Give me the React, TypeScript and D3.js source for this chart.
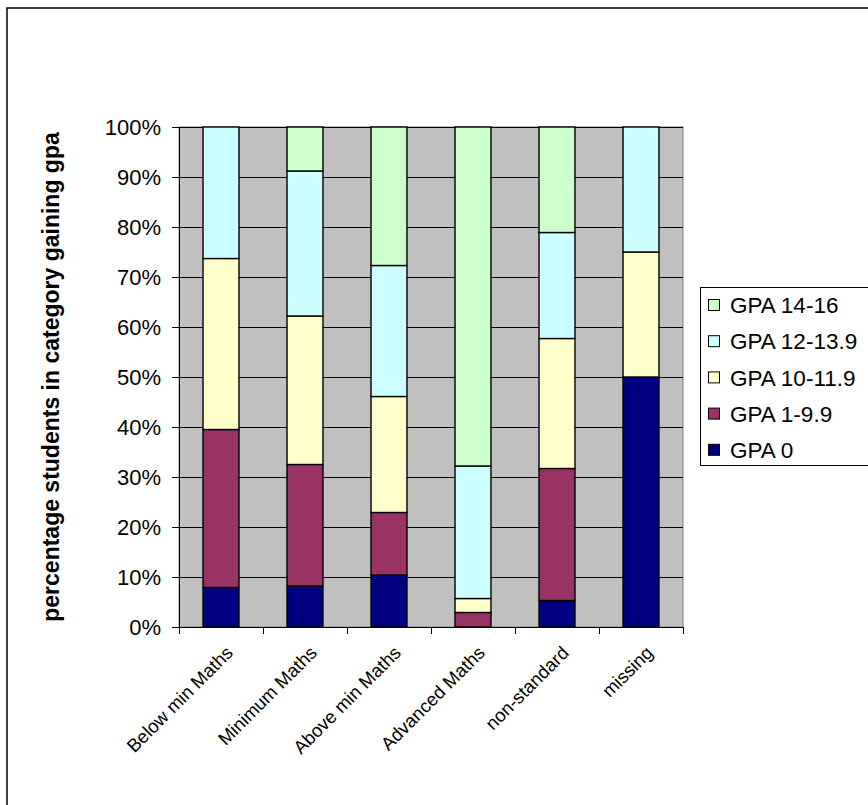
import React from "react";
import * as d3 from "d3";

const categories = [
  "Below min Maths",
  "Minimum Maths",
  "Above min Maths",
  "Advanced Maths",
  "non-standard",
  "missing",
];

// Series in stacking order (bottom to top), values are percentages
const seriesNames = ["GPA 0", "GPA 1-9.9", "GPA 10-11.9", "GPA 12-13.9", "GPA 14-16"];
const gpa0 = [7.9, 8.2, 10.4, 0, 5.3, 50];
const gpa1to9 = [31.6, 24.3, 12.5, 2.9, 26.4, 0];
const gpa10to11 = [34.2, 29.7, 23.2, 2.8, 26.0, 25];
const gpa12to13 = [26.3, 29.0, 26.2, 26.5, 21.2, 25];
const gpa14to16 = [0, 8.8, 27.7, 67.8, 21.1, 0];
const seriesColors = ["#000080", "#993366", "#FFFFCC", "#CCFFFF", "#CCFFCC"];

const yTicks = [0, 10, 20, 30, 40, 50, 60, 70, 80, 90, 100];
const yTitle = "percentage students in category gaining gpa";

const FONT = "Arial, 'Liberation Sans', Helvetica, sans-serif";

export default function App() {
  const W = 868;
  const H = 805;
  const plot = { left: 179, right: 683, top: 127, bottom: 627 };

  const x = d3
    .scaleBand<string>()
    .domain(categories)
    .range([plot.left, plot.right])
    .paddingInner(0.572)
    .paddingOuter(0.286);
  const band = d3.scaleBand<string>().domain(categories).range([plot.left, plot.right]);
  const y = d3.scaleLinear().domain([0, 100]).range([plot.bottom, plot.top]);

  const allSeries = [gpa0, gpa1to9, gpa10to11, gpa12to13, gpa14to16];
  const rows = categories.map((c, i) => {
    const r: Record<string, any> = { cat: c };
    seriesNames.forEach((s, k) => (r[s] = allSeries[k][i]));
    return r;
  });
  const stacked = d3.stack<any>().keys(seriesNames)(rows);

  const bw = x.bandwidth();
  const boundaries = [plot.left, ...categories.map((c) => (band(c) as number) + band.bandwidth())];

  const legendRows = seriesNames.map((s, i) => ({ name: s, color: seriesColors[i] })).reverse();

  return (
    <svg
      width={W}
      height={H}
      style={{ position: "absolute", left: 0, top: 0, background: "#fff" }}
      fontFamily={FONT}
    >
      {/* chart frame */}
      <rect x={7} y={8} width={900} height={900} fill="#fff" stroke="#000" strokeWidth={1.5} />

      {/* plot background */}
      <rect
        x={plot.left}
        y={plot.top}
        width={plot.right - plot.left}
        height={plot.bottom - plot.top}
        fill="#C0C0C0"
        stroke="#808080"
        strokeWidth={1}
      />

      {/* gridlines */}
      {yTicks.map((t) => (
        <line
          key={"g" + t}
          x1={plot.left}
          x2={plot.right}
          y1={Math.round(y(t)) + 0.5}
          y2={Math.round(y(t)) + 0.5}
          stroke="#000"
          strokeWidth={1}
        />
      ))}

      {/* bars */}
      {stacked.map((layer, k) =>
        layer.map((d, i) => {
          const h = y(d[0]) - y(d[1]);
          if (h <= 0) return null;
          return (
            <rect
              key={layer.key + i}
              x={x(categories[i])}
              y={y(d[1])}
              width={bw}
              height={h}
              fill={seriesColors[k]}
              stroke="#000"
              strokeWidth={1.4}
            />
          );
        })
      )}

      {/* y axis */}
      <line x1={plot.left + 0.5} x2={plot.left + 0.5} y1={plot.top} y2={plot.bottom} stroke="#000" />
      {yTicks.map((t) => (
        <g key={"yt" + t}>
          <line
            x1={plot.left - 7}
            x2={plot.left}
            y1={Math.round(y(t)) + 0.5}
            y2={Math.round(y(t)) + 0.5}
            stroke="#000"
          />
          <text x={161} y={y(t)} dy="0.35em" textAnchor="end" fontSize={22} fill="#000">
            {t}%
          </text>
        </g>
      ))}

      {/* x axis */}
      <line x1={plot.left} x2={plot.right} y1={plot.bottom + 0.5} y2={plot.bottom + 0.5} stroke="#000" />
      {boundaries.map((bx, i) => (
        <line
          key={"xt" + i}
          x1={Math.round(bx) + 0.5}
          x2={Math.round(bx) + 0.5}
          y1={plot.bottom}
          y2={plot.bottom + 7}
          stroke="#000"
        />
      ))}
      {categories.map((c) => {
        const cx = (band(c) as number) + band.bandwidth() / 2;
        return (
          <text
            key={"xl" + c}
            transform={`translate(${cx + 13},${plot.bottom + 27}) rotate(-45)`}
            textAnchor="end"
            fontSize={18.5}
            fill="#000"
          >
            {c}
          </text>
        );
      })}

      {/* y axis title */}
      <text
        transform={`translate(58.5,${(plot.top + plot.bottom) / 2}) rotate(-90)`}
        textAnchor="middle"
        fontSize={23}
        fontWeight="bold"
        fill="#000"
      >
        {yTitle}
      </text>

      {/* legend */}
      <rect x={700.5} y={287.5} width={200} height={178} fill="#fff" stroke="#000" strokeWidth={1} />
      {legendRows.map((r, i) => {
        const cy = 305 + i * 36.2;
        return (
          <g key={"lg" + r.name}>
            <rect x={708.5} y={cy - 5.5} width={11} height={11} fill={r.color} stroke="#000" strokeWidth={1} />
            <text x={730} y={cy} dy="0.36em" fontSize={22.5} fill="#000">
              {r.name}
            </text>
          </g>
        );
      })}
    </svg>
  );
}
